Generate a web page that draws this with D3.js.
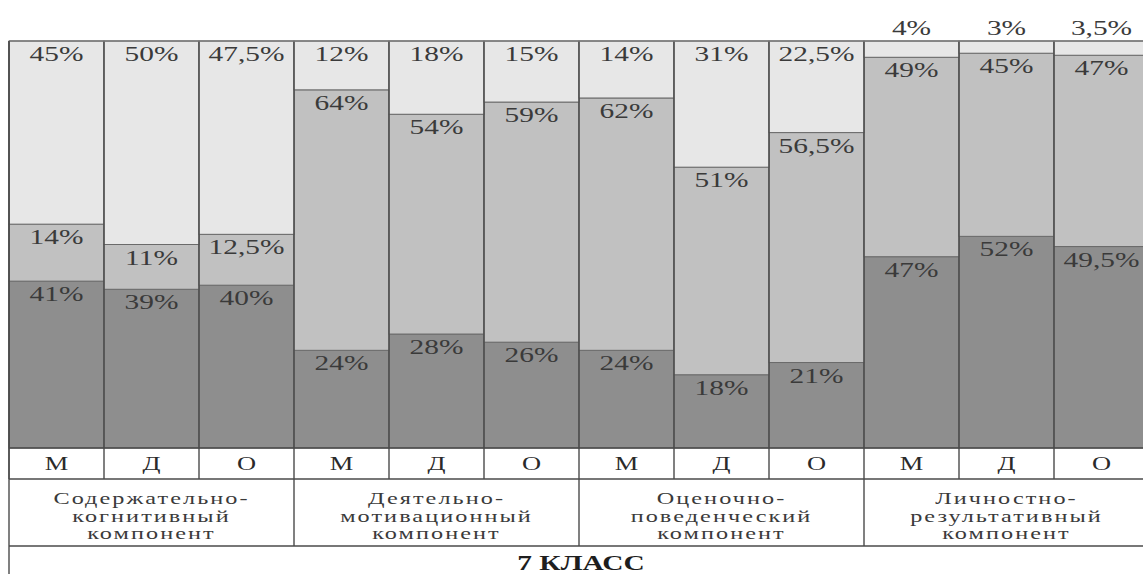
<!DOCTYPE html>
<html lang="ru">
<head>
<meta charset="utf-8">
<script src="https://cdn.jsdelivr.net/npm/d3@7"></script>
<style>
  html, body { margin: 0; padding: 0; background: #fff; }
  svg { display: block; }
</style>
</head>
<body>
<svg id="chart" width="1143" height="574"></svg>
<script>
// Sub-group codes under every bar
const subgroups = ["М", "Д", "О"];
// Component groups (three bars each), line-broken as printed
const groups = [
  ["Содержательно-", "когнитивный", "компонент"],
  ["Деятельно-", "мотивационный", "компонент"],
  ["Оценочно-", "поведенческий", "компонент"],
  ["Личностно-", "результативный", "компонент"]
];
// Shares in percent, bottom to top
const lowLevel  = [41, 39, 40, 24, 28, 26, 24, 18, 21, 47, 52, 49.5];
const midLevel  = [14, 11, 12.5, 64, 54, 59, 62, 51, 56.5, 49, 45, 47];
const highLevel = [45, 50, 47.5, 12, 18, 15, 14, 31, 22.5, 4, 3, 3.5];
const classTitle = "7 КЛАСС";

const seriesKeys = ["low", "mid", "high"];
const fills = { low: "#8e8e8e", mid: "#c1c1c1", high: "#e7e7e7" };

const rows = lowLevel.map((v, i) => ({
  id: i,
  code: subgroups[i % 3],
  low: v, mid: midLevel[i], high: highLevel[i]
}));

const svg = d3.select("#chart");
const plotLeft = 9, barW = 95, plotTop = 41, plotBase = 448;
const W = 1143;
const serif = "'Liberation Serif', 'DejaVu Serif', serif";
const stretch = 1.47; // wide typesetting of the printed figure

const x = d3.scaleBand()
  .domain(rows.map(d => d.id))
  .range([plotLeft, plotLeft + barW * rows.length])
  .padding(0);
const y = d3.scaleLinear().domain([0, 100]).range([plotBase, plotTop]);

const fmt = v => String(v).replace(".", ",") + "%";

// Places horizontally widened text centred on (cx, cy)
function wideText(parent, cx, cy, str, size, opts = {}) {
  return parent.append("text")
    .attr("transform", `translate(${cx},${cy}) scale(${stretch},1)`)
    .attr("font-size", size)
    .attr("font-weight", opts.weight || "normal")
    .attr("letter-spacing", opts.spacing || 0)
    .attr("fill", opts.fill || "#3a3a3a")
    .text(str);
}

const stacked = d3.stack().keys(seriesKeys)(rows);

// Stacked segments
const layer = svg.append("g").selectAll("g")
  .data(stacked).join("g")
  .attr("fill", s => fills[s.key]);

layer.selectAll("rect")
  .data(s => s.map(p => ({ p, key: s.key })))
  .join("rect")
  .attr("x", d => x(d.p.data.id))
  .attr("width", x.bandwidth())
  .attr("y", d => y(d.p[1]))
  .attr("height", d => y(d.p[0]) - y(d.p[1]))
  .attr("stroke", "#6a6a6a")
  .attr("stroke-width", 1);

// Vertical bar dividers
const gridColor = "#4a4a4a";
const lines = svg.append("g").attr("stroke", gridColor).attr("stroke-width", 1.4);
rows.forEach(d => {
  lines.append("line")
    .attr("x1", x(d.id)).attr("x2", x(d.id))
    .attr("y1", plotTop).attr("y2", 479);
});
lines.append("line")
  .attr("x1", plotLeft).attr("x2", W).attr("y1", plotTop).attr("y2", plotTop)
  .attr("stroke", "#7a7a7a");

// Value labels
const labels = svg.append("g")
  .attr("font-family", serif)
  .attr("text-anchor", "middle");

stacked.forEach(s => {
  s.forEach(p => {
    const val = p.data[s.key];
    const small = val < 8;
    wideText(labels,
      x(p.data.id) + x.bandwidth() / 2,
      small ? y(p[1]) - 6 : y(p[1]) + 20,
      fmt(val), 20, { fill: "#3a3a3a" });
  });
});

// Table under the bars
const table = svg.append("g").attr("stroke", gridColor).attr("stroke-width", 1.4);
[448, 479, 546].forEach(yy => {
  table.append("line").attr("x1", plotLeft).attr("x2", W).attr("y1", yy).attr("y2", yy);
});
table.append("line").attr("x1", plotLeft).attr("x2", plotLeft).attr("y1", plotTop).attr("y2", 574);
groups.forEach((g, gi) => {
  if (gi > 0) {
    const gx = x(gi * 3);
    table.append("line").attr("x1", gx).attr("x2", gx).attr("y1", 479).attr("y2", 546);
  }
});

const txt = svg.append("g")
  .attr("font-family", serif)
  .attr("text-anchor", "middle");

rows.forEach(d => {
  wideText(txt, x(d.id) + x.bandwidth() / 2, 470, d.code, 18, { fill: "#2a2a2a" });
});

// Group captions, three lines each
groups.forEach((g, gi) => {
  const cx = x(gi * 3) + x.bandwidth() * 1.5;
  g.forEach((line, li) => {
    wideText(txt, cx, 504 + li * 17.5, line, 16.5, { fill: "#3a3a3a", spacing: 1.4 });
  });
});

wideText(txt, 581, 570, classTitle, 20, { weight: "bold", fill: "#1e1e1e" });
</script>
</body>
</html>
